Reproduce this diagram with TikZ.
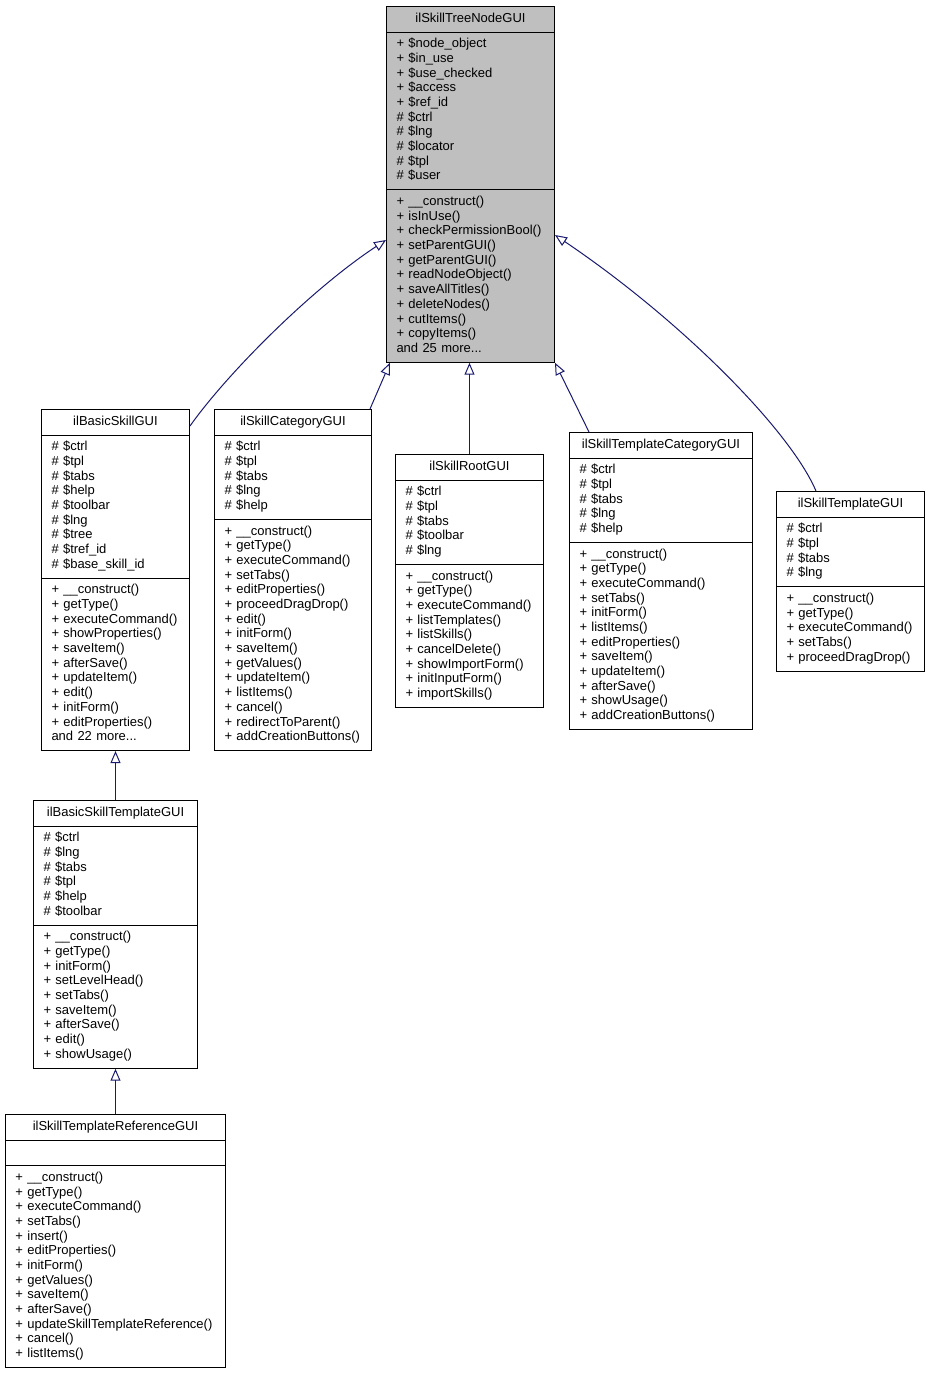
\documentclass[tikz,border=0pt]{standalone}
\usepackage{fontspec}
\setmainfont{Liberation Sans}
\usetikzlibrary{shapes.multipart,arrows.meta}

\definecolor{edgeblue}{RGB}{25,25,112}
\definecolor{basegray}{RGB}{191,191,191}

\newcommand{\umlsize}{\fontsize{13}{14.67}\selectfont}
\newcommand{\umlrows}[1]{\begin{tabular}[t]{@{}l@{}}#1\end{tabular}}
\newcommand{\umltitle}[1]{\makebox[\linewidth][c]{\strut #1}}

\tikzset{
  classbox/.style={draw=black, line width=1pt, fill=white,
    rectangle split, rectangle split parts=3, anchor=north west,
    inner xsep=10pt, inner ysep=5pt, text width=#1, align=left,
    font=\umlsize},
  basebox/.style={classbox=#1, fill=basegray},
  inherit/.style={draw=edgeblue, line width=1pt,
    -{Triangle[open,length=12pt,width=10pt]}}
}

\begin{document}
\begin{tikzpicture}[x=1pt,y=-1pt]

    % Page frame
    \useasboundingbox (0,0) rectangle (931,1373);

    % Base class
    \node[basebox=148pt] (tree) at (386,6) {\umltitle{ilSkillTreeNodeGUI}
      \nodepart{two}\umlrows{+ \$node\_object\\+ \$in\_use\\+ \$use\_checked\\+ \$access\\+ \$ref\_id\\\# \$ctrl\\\# \$lng\\\# \$locator\\\# \$tpl\\\# \$user}
      \nodepart{three}\umlrows{+ \_\_construct()\\+ isInUse()\\+ checkPermissionBool()\\+ setParentGUI()\\+ getParentGUI()\\+ readNodeObject()\\+ saveAllTitles()\\+ deleteNodes()\\+ cutItems()\\+ copyItems()\\and 25 more...}};

    % Derived classes, first row
    \node[classbox=128pt] (basic) at (41,409) {\umltitle{ilBasicSkillGUI}
      \nodepart{two}\umlrows{\# \$ctrl\\\# \$tpl\\\# \$tabs\\\# \$help\\\# \$toolbar\\\# \$lng\\\# \$tree\\\# \$tref\_id\\\# \$base\_skill\_id}
      \nodepart{three}\umlrows{+ \_\_construct()\\+ getType()\\+ executeCommand()\\+ showProperties()\\+ saveItem()\\+ afterSave()\\+ updateItem()\\+ edit()\\+ initForm()\\+ editProperties()\\and 22 more...}};

    \node[classbox=137pt] (category) at (214,409) {\umltitle{ilSkillCategoryGUI}
      \nodepart{two}\umlrows{\# \$ctrl\\\# \$tpl\\\# \$tabs\\\# \$lng\\\# \$help}
      \nodepart{three}\umlrows{+ \_\_construct()\\+ getType()\\+ executeCommand()\\+ setTabs()\\+ editProperties()\\+ proceedDragDrop()\\+ edit()\\+ initForm()\\+ saveItem()\\+ getValues()\\+ updateItem()\\+ listItems()\\+ cancel()\\+ redirectToParent()\\+ addCreationButtons()}};

    \node[classbox=128pt] (root) at (395,454) {\umltitle{ilSkillRootGUI}
      \nodepart{two}\umlrows{\# \$ctrl\\\# \$tpl\\\# \$tabs\\\# \$toolbar\\\# \$lng}
      \nodepart{three}\umlrows{+ \_\_construct()\\+ getType()\\+ executeCommand()\\+ listTemplates()\\+ listSkills()\\+ cancelDelete()\\+ showImportForm()\\+ initInputForm()\\+ importSkills()}};

    \node[classbox=163pt] (tcat) at (569,432) {\umltitle{ilSkillTemplateCategoryGUI}
      \nodepart{two}\umlrows{\# \$ctrl\\\# \$tpl\\\# \$tabs\\\# \$lng\\\# \$help}
      \nodepart{three}\umlrows{+ \_\_construct()\\+ getType()\\+ executeCommand()\\+ setTabs()\\+ initForm()\\+ listItems()\\+ editProperties()\\+ saveItem()\\+ updateItem()\\+ afterSave()\\+ showUsage()\\+ addCreationButtons()}};

    \node[classbox=128pt] (tmpl) at (776,491) {\umltitle{ilSkillTemplateGUI}
      \nodepart{two}\umlrows{\# \$ctrl\\\# \$tpl\\\# \$tabs\\\# \$lng}
      \nodepart{three}\umlrows{+ \_\_construct()\\+ getType()\\+ executeCommand()\\+ setTabs()\\+ proceedDragDrop()}};

    % Second and third level
    \node[classbox=144pt] (bst) at (33,800) {\umltitle{ilBasicSkillTemplateGUI}
      \nodepart{two}\umlrows{\# \$ctrl\\\# \$lng\\\# \$tabs\\\# \$tpl\\\# \$help\\\# \$toolbar}
      \nodepart{three}\umlrows{+ \_\_construct()\\+ getType()\\+ initForm()\\+ setLevelHead()\\+ setTabs()\\+ saveItem()\\+ afterSave()\\+ edit()\\+ showUsage()}};

    \node[classbox=200pt] (ref) at (5,1114) {\umltitle{ilSkillTemplateReferenceGUI}
      \nodepart{two}\strut
      \nodepart{three}\umlrows{+ \_\_construct()\\+ getType()\\+ executeCommand()\\+ setTabs()\\+ insert()\\+ editProperties()\\+ initForm()\\+ getValues()\\+ saveItem()\\+ afterSave()\\+ updateSkillTemplateReference()\\+ cancel()\\+ listItems()}};

    % Inheritance arrows to the base class
    \draw[inherit] ([yshift=-17pt]basic.north east) .. controls +(36,-51) and +(-76,50) .. ([yshift=-234pt]tree.north west);
    \draw[inherit] ([xshift=-2pt]category.north east) -- ([xshift=4pt]tree.south west);
    \draw[inherit] (root.north) -- (root.north |- tree.south);
    \draw[inherit] ([xshift=20pt]tcat.north west) -- (tree.south east);
    \draw[inherit] ([xshift=40pt]tmpl.north west) .. controls +(-26,-61) and +(126,85) .. ([yshift=-229pt]tree.north east);

    % Chain on the left
    \draw[inherit] (bst.north) -- (basic.south);
    \draw[inherit] (ref.north) -- (bst.south);

\end{tikzpicture}
\end{document}
